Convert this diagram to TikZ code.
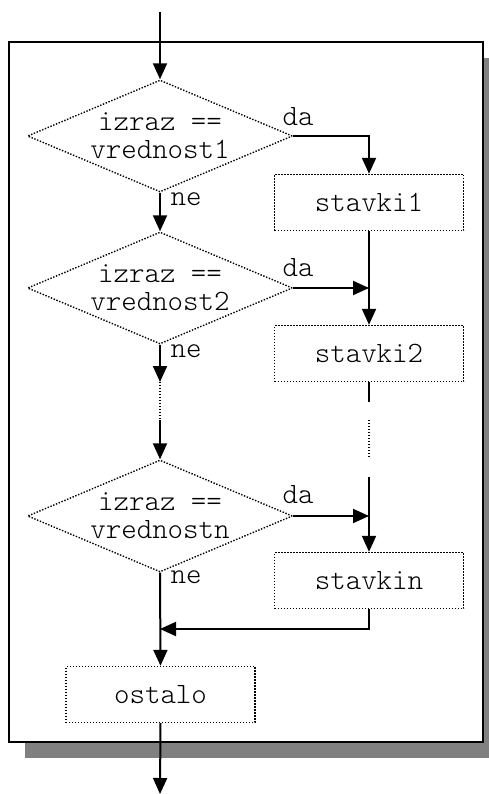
\documentclass[tikz,border=0pt]{standalone}
\usepackage{fontspec}
\setmonofont{Latin Modern Mono Light}
\usetikzlibrary{shapes.geometric, arrows.meta}

\begin{document}
\begin{tikzpicture}[x=1pt, y=-1pt,
  font=\ttfamily\fontsize{29.5}{28}\selectfont,
  dots/.style={line width=1.4pt, dash pattern=on 1.4pt off 1.6pt},
  cond/.style={diamond, dots, draw, inner sep=0pt, minimum width=265pt, minimum height=112pt},
  box/.style={rectangle, dots, draw, fill=white, minimum width=189pt, minimum height=56pt},
  txt/.style={align=center, inner sep=0pt},
  arr/.style={line width=2pt, -{Triangle[length=16pt, width=14pt]}},
  ln/.style={line width=2pt}]
\useasboundingbox (0,0) rectangle (489,794);
% frame with shadow
\fill[gray] (25,58) rectangle (499,758);
\draw[line width=2pt, fill=white] (9,42) rectangle (483,742);

% decisions
\node[cond] (c1) at (160,136) {};
\node[txt] (t1) at (c1) {izraz ==\\vrednost1};
\node[cond] (c2) at (160,288) {};
\node[txt] (t2) at (c2) {izraz ==\\vrednost2};
\node[cond] (cn) at (160,516) {};
\node[txt] (tn) at (cn) {izraz ==\\vrednostn};

% statements
\node[box] (s1) at (369,202.5) {stavki1};
\node[box] (s2) at (369,353.5) {stavki2};
\node[box] (sn) at (369,580.5) {stavkin};
\node[box] (els) at (160.5,694.5) {ostalo};

\coordinate (in) at (160,12);
\coordinate (out) at (160,794);
\coordinate (l1) at (160,382);
\coordinate (l2) at (160,420);
\coordinate (r1) at (369,402);
\coordinate (r2) at (369,420);
\coordinate (r3) at (369,457);
\coordinate (r4) at (369,477);
\coordinate (j) at (160,629);

\draw[arr] (in) -- (c1.north);
\draw[arr] (c1.east) -| (s1.north);
\draw[arr] (c1.south) -- (c2.north);
\draw[arr] (s1.south) -- (s2.north);
\draw[arr] (c2.east) -- (s1.south |- c2.east);
\draw[arr] (c2.south) -- (l1);
\draw[dots] (l1) -- (l2);
\draw[arr] (l2) -- (cn.north);
\draw[ln] (s2.south) -- (r1);
\draw[dots] (r2) -- (r3);
\draw[arr] (r4) -- (sn.north);
\draw[arr] (cn.east) -- (sn.north |- cn.east);
\draw[arr] (sn.south) |- (j);
\draw[arr] (cn.south) -- (els.north);
\draw[arr] (els.south) -- (out);

% branch labels
\node (da1) at (298,117) {da};
\node (da2) at (298,268) {da};
\node (dan) at (298,495) {da};
\node (ne1) at (186,199) {ne};
\node (ne2) at (186,351) {ne};
\node (nen) at (186,577) {ne};
\end{tikzpicture}
\end{document}
